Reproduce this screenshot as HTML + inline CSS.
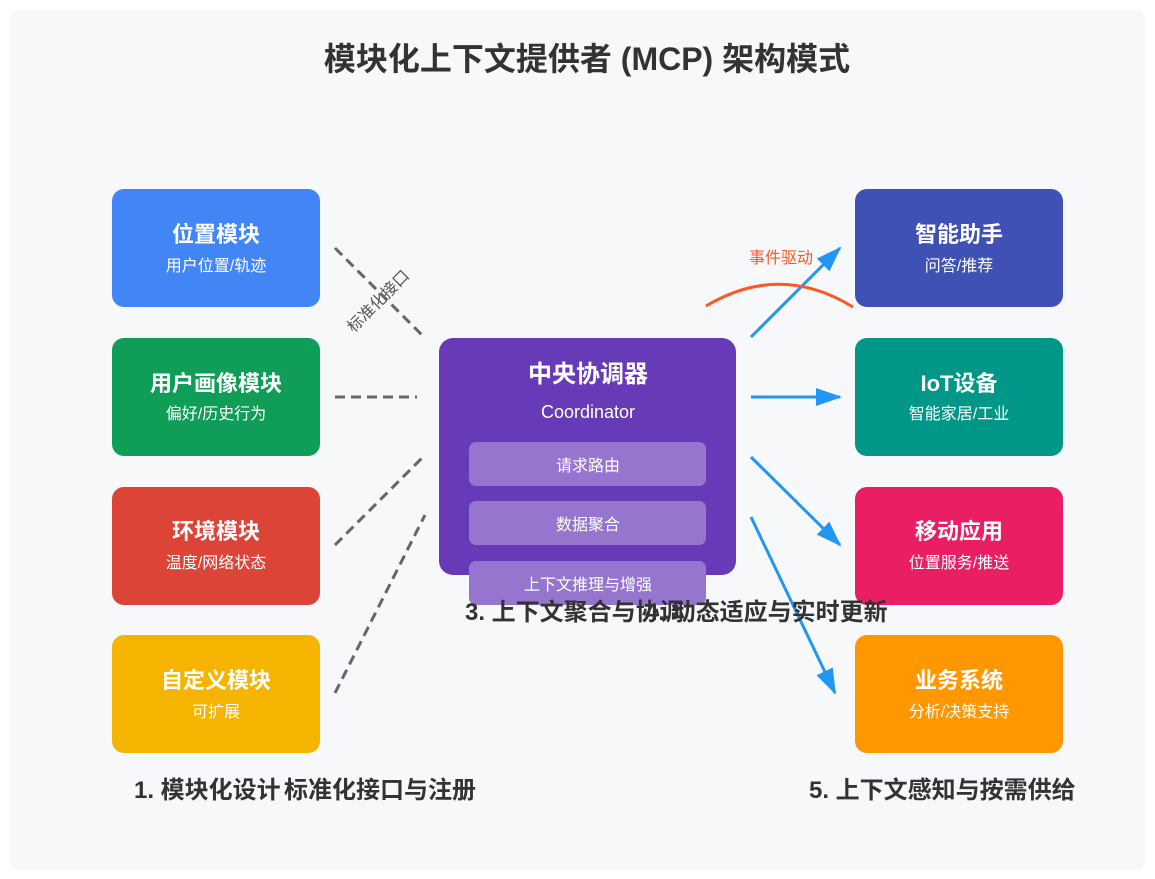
<!DOCTYPE html>
<html><head><meta charset="utf-8"><style>
body{margin:0;background:#fff;}
svg text{font-family:"Liberation Sans","Noto Sans CJK SC",sans-serif;}
</style></head><body>
<svg width="1155" height="874" xmlns="http://www.w3.org/2000/svg">
<defs>
<marker id="ar" markerWidth="10" markerHeight="8" refX="9" refY="4" orient="auto" markerUnits="userSpaceOnUse" viewBox="0 0 10 8"><path d="M0,0 L10,4 L0,8 Z" fill="#2196f3"/></marker>
<marker id="ar2" markerWidth="26" markerHeight="18" refX="24" refY="9" orient="auto" markerUnits="userSpaceOnUse"><path d="M0,0 L26,9 L0,18 Z" fill="#2196f3"/></marker>
</defs>
<rect x="10" y="10" width="1135" height="860" rx="8" fill="#f7f8fa"/>
<text x="587" y="70" font-size="32" font-weight="bold" fill="#333" text-anchor="middle">模块化上下文提供者 (MCP) 架构模式</text>

<g font-weight="bold" text-anchor="middle">
<rect x="112" y="189" width="208" height="118" rx="12" fill="#4285f4"/>
<rect x="112" y="338" width="208" height="118" rx="12" fill="#0f9d58"/>
<rect x="112" y="487" width="208" height="118" rx="12" fill="#db4437"/>
<rect x="112" y="635" width="208" height="118" rx="12" fill="#f4b400"/>
<rect x="855" y="189" width="208" height="118" rx="12" fill="#3f51b5"/>
<rect x="855" y="338" width="208" height="118" rx="12" fill="#009688"/>
<rect x="855" y="487" width="208" height="118" rx="12" fill="#e91e63"/>
<rect x="855" y="635" width="208" height="118" rx="12" fill="#ff9800"/>
</g>
<g fill="#fff" text-anchor="middle">
<text x="216" y="242" font-size="22" font-weight="bold">位置模块</text><text x="216" y="271" font-size="16">用户位置/轨迹</text>
<text x="216" y="391" font-size="22" font-weight="bold">用户画像模块</text><text x="216" y="419" font-size="16">偏好/历史行为</text>
<text x="216" y="539" font-size="22" font-weight="bold">环境模块</text><text x="216" y="568" font-size="16">温度/网络状态</text>
<text x="216" y="688" font-size="22" font-weight="bold">自定义模块</text><text x="216" y="717" font-size="16">可扩展</text>
<text x="959" y="242" font-size="22" font-weight="bold">智能助手</text><text x="959" y="271" font-size="16">问答/推荐</text>
<text x="959" y="391" font-size="22" font-weight="bold">IoT设备</text><text x="959" y="419" font-size="16">智能家居/工业</text>
<text x="959" y="539" font-size="22" font-weight="bold">移动应用</text><text x="959" y="568" font-size="16">位置服务/推送</text>
<text x="959" y="688" font-size="22" font-weight="bold">业务系统</text><text x="959" y="717" font-size="16">分析/决策支持</text>
</g>

<rect x="439" y="338" width="297" height="237" rx="14" fill="#673ab7"/>
<text x="588" y="382" font-size="24" font-weight="bold" fill="#fff" text-anchor="middle">中央协调器</text>
<text x="588" y="418" font-size="18" fill="#fff" text-anchor="middle">Coordinator</text>
<rect x="469" y="442" width="237" height="44" rx="7" fill="#9575cd"/>
<rect x="469" y="501" width="237" height="44" rx="7" fill="#9575cd"/>
<rect x="469" y="561" width="237" height="44" rx="7" fill="#9575cd"/>
<g fill="#fff" font-size="16" text-anchor="middle">
<text x="588" y="471">请求路由</text><text x="588" y="530">数据聚合</text><text x="588" y="590">上下文推理与增强</text>
</g>

<g stroke="#666" stroke-width="3" stroke-dasharray="10,6" fill="none">
<line x1="335" y1="248" x2="425" y2="338"/>
<line x1="335" y1="397" x2="417" y2="397"/>
<line x1="335" y1="545" x2="425" y2="455"/>
<line x1="335" y1="693" x2="425" y2="515"/>
</g>
<text x="0" y="0" font-size="16" fill="#555" text-anchor="middle" transform="translate(382,305) rotate(-45)">标准化接口</text>

<g stroke="#2196f3" stroke-width="3" fill="none">
<line x1="751" y1="337" x2="840" y2="248" marker-end="url(#ar2)"/>
<line x1="751" y1="397" x2="840" y2="397" marker-end="url(#ar2)"/>
<line x1="751" y1="457" x2="840" y2="545" marker-end="url(#ar2)"/>
<line x1="751" y1="517" x2="835" y2="693" marker-end="url(#ar2)"/>
</g>
<path d="M706,306 Q780,262 853,307" stroke="#ff5722" stroke-width="3" fill="none"/>
<text x="781" y="263" font-size="16" fill="#ff5722" text-anchor="middle">事件驱动</text>

<g font-size="24" font-weight="bold" fill="#333">
<text x="465" y="620">3. 上下文聚合与协调</text>
<text x="645" y="620">4. 动态适应与实时更新</text>
<text x="134" y="798">1. 模块化设计</text>
<text x="284" y="798">标准化接口与注册</text>
<text x="809" y="798">5. 上下文感知与按需供给</text>
</g>
</svg>
</body></html>
